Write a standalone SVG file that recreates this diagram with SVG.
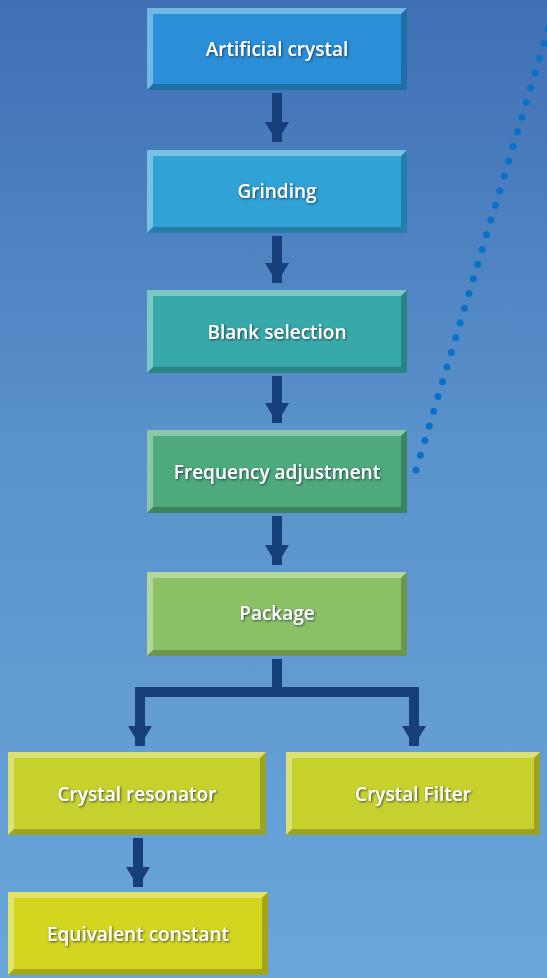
<svg xmlns="http://www.w3.org/2000/svg" width="547" height="978" viewBox="0 0 547 978">
<defs>
<linearGradient id="bg" x1="0" y1="0" x2="0" y2="1">
<stop offset="0" stop-color="#3f6fb4"/>
<stop offset="0.45" stop-color="#5a92cc"/>
<stop offset="1" stop-color="#6aa6da"/>
</linearGradient>
<filter id="sh" x="-10%" y="-30%" width="120%" height="160%">
<feDropShadow dx="1" dy="1" stdDeviation="0.8" flood-color="#1a2a40" flood-opacity="0.8"/>
</filter>
<marker id="ah" markerUnits="userSpaceOnUse" markerWidth="24" markerHeight="24" refX="22" refY="12" orient="auto">
<path d="M2,0 L22,12 L2,24 Z" fill="#163f7c"/>
</marker>
</defs>
<style>
.lt{fill:#ffffff;opacity:0.35}
.dk{fill:#000000;opacity:0.22}
.lbl{font-family:"Open Sans","DejaVu Sans",sans-serif;font-size:19px;font-weight:600;fill:#ffffff;text-anchor:middle;dominant-baseline:central;filter:url(#sh)}
.con{stroke:#163f7c;stroke-width:10;fill:none}
.arr{stroke:#163f7c;stroke-width:10;fill:none;marker-end:url(#ah)}
</style>
<rect width="547" height="978" fill="url(#bg)"/>

<g id="n1">
<rect x="147" y="8" width="260" height="82" fill="#2a8fd6"/>
<polygon class="lt" points="147,8 407,8 401,14 153,14"/>
<polygon class="lt" points="147,8 153,14 153,84 147,90"/>
<polygon class="dk" points="407,8 407,90 401,84 401,14"/>
<polygon class="dk" points="147,90 153,84 401,84 407,90"/>
<text class="lbl" x="277" y="49">Artificial crystal</text>
</g>
<g id="n2">
<rect x="147" y="150" width="260" height="83" fill="#30a2d6"/>
<polygon class="lt" points="147,150 407,150 401,156 153,156"/>
<polygon class="lt" points="147,150 153,156 153,227 147,233"/>
<polygon class="dk" points="407,150 407,233 401,227 401,156"/>
<polygon class="dk" points="147,233 153,227 401,227 407,233"/>
<text class="lbl" x="277" y="191">Grinding</text>
</g>
<g id="n3">
<rect x="147" y="290" width="260" height="83" fill="#38a9aa"/>
<polygon class="lt" points="147,290 407,290 401,296 153,296"/>
<polygon class="lt" points="147,290 153,296 153,367 147,373"/>
<polygon class="dk" points="407,290 407,373 401,367 401,296"/>
<polygon class="dk" points="147,373 153,367 401,367 407,373"/>
<text class="lbl" x="277" y="332">Blank selection</text>
</g>
<g id="n4">
<rect x="147" y="430" width="260" height="83" fill="#4ea97c"/>
<polygon class="lt" points="147,430 407,430 401,436 153,436"/>
<polygon class="lt" points="147,430 153,436 153,507 147,513"/>
<polygon class="dk" points="407,430 407,513 401,507 401,436"/>
<polygon class="dk" points="147,513 153,507 401,507 407,513"/>
<text class="lbl" x="277" y="472">Frequency adjustment</text>
</g>
<g id="n5">
<rect x="147" y="572" width="260" height="84" fill="#8bc165"/>
<polygon class="lt" points="147,572 407,572 401,578 153,578"/>
<polygon class="lt" points="147,572 153,578 153,650 147,656"/>
<polygon class="dk" points="407,572 407,656 401,650 401,578"/>
<polygon class="dk" points="147,656 153,650 401,650 407,656"/>
<text class="lbl" x="277" y="613">Package</text>
</g>
<g id="n6">
<rect x="8" y="752" width="258" height="83" fill="#c6d12e"/>
<polygon class="lt" points="8,752 266,752 260,758 14,758"/>
<polygon class="lt" points="8,752 14,758 14,829 8,835"/>
<polygon class="dk" points="266,752 266,835 260,829 260,758"/>
<polygon class="dk" points="8,835 14,829 260,829 266,835"/>
<text class="lbl" x="137" y="794">Crystal resonator</text>
</g>
<g id="n7">
<rect x="286" y="752" width="254" height="83" fill="#c6d12e"/>
<polygon class="lt" points="286,752 540,752 534,758 292,758"/>
<polygon class="lt" points="286,752 292,758 292,829 286,835"/>
<polygon class="dk" points="540,752 540,835 534,829 534,758"/>
<polygon class="dk" points="286,835 292,829 534,829 540,835"/>
<text class="lbl" x="413" y="794">Crystal Filter</text>
</g>
<g id="n8">
<rect x="8" y="892" width="260" height="83" fill="#d3d51f"/>
<polygon class="lt" points="8,892 268,892 262,898 14,898"/>
<polygon class="lt" points="8,892 14,898 14,969 8,975"/>
<polygon class="dk" points="268,892 268,975 262,969 262,898"/>
<polygon class="dk" points="8,975 14,969 262,969 268,975"/>
<text class="lbl" x="138" y="934">Equivalent constant</text>
</g>

<g id="connectors">
<line class="arr" x1="277" y1="93" x2="277" y2="142"/>
<line class="arr" x1="277" y1="236" x2="277" y2="283"/>
<line class="arr" x1="277" y1="376" x2="277" y2="423"/>
<line class="arr" x1="277" y1="516" x2="277" y2="565"/>
<path class="con" d="M277,659 V692 M135,692 H419"/>
<line class="arr" x1="140" y1="687" x2="140" y2="746"/>
<line class="arr" x1="414" y1="687" x2="414" y2="746"/>
<line class="arr" x1="138" y1="838" x2="138" y2="887"/>
<path d="M416,470 L551,20" stroke="#0a70c8" stroke-width="7" stroke-linecap="round" stroke-dasharray="0 15.35" fill="none"/>
</g>
</svg>
